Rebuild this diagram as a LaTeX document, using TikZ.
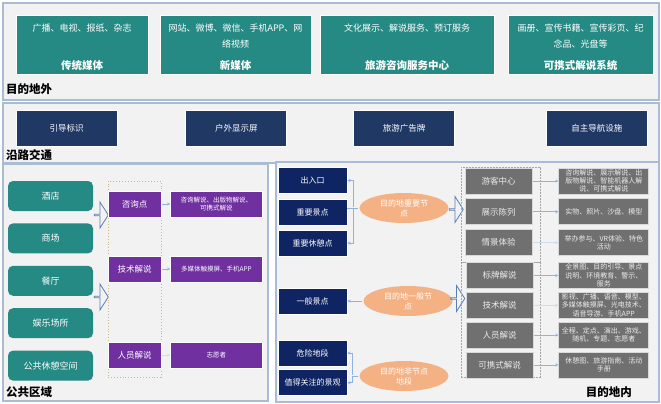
\documentclass[tikz,border=0pt]{standalone}
\usepackage{fontspec}
\setmainfont{Noto Sans CJK SC}
\usetikzlibrary{arrows.meta,positioning,shapes.geometric,shapes.arrows}
\definecolor{panelbg}{HTML}{F2F2F2}
\definecolor{panelline}{HTML}{A9BCD4}
\definecolor{tealbox}{HTML}{268A84}
\definecolor{navymid}{HTML}{1F3864}
\definecolor{navydeep}{HTML}{0F2462}
\definecolor{purplebox}{HTML}{7030A0}
\definecolor{peach}{HTML}{F4B183}
\definecolor{greybox}{HTML}{707070}
\definecolor{greyline}{HTML}{D9D9D9}
\definecolor{linkblue}{HTML}{8DB4E2}
\definecolor{hollow}{HTML}{5A80B3}
\definecolor{tanline}{HTML}{C9B78A}

\begin{document}
\begin{tikzpicture}[x=1pt, y=-1pt, >={Stealth[length=3.2pt,width=3.2pt]},
  font=\fontsize{8.5}{10}\selectfont,
  panel/.style={draw=panelline, line width=1.2pt, fill=panelbg},
  zone/.style={font=\fontsize{11.5}{12}\selectfont\bfseries, inner sep=0pt},
  media/.style={fill=tealbox, draw=white, line width=0.8pt, minimum height=59pt, inner sep=0pt},
  mdesc/.style={text=white, align=center, font=\fontsize{9}{16}\selectfont, inner sep=0pt},
  mtitle/.style={text=white, font=\fontsize{10.5}{12}\selectfont\bfseries, inner sep=0pt},
  sign/.style={fill=navymid, draw=white, line width=0.8pt, text=white, minimum width=101pt, minimum height=36pt},
  venue/.style={fill=tealbox, text=white, rounded corners=5pt, minimum width=85pt, minimum height=30pt, font=\fontsize{9}{10}\selectfont},
  ptag/.style={fill=purplebox, draw=white, text=white, minimum width=53pt, minimum height=26pt, inner sep=0pt},
  pnote/.style={fill=purplebox, draw=white, text=white, minimum width=92pt, minimum height=26pt, inner sep=0pt, align=center, font=\fontsize{6.5}{8}\selectfont},
  spot/.style={fill=navydeep, draw=white, line width=0.8pt, text=white, minimum width=69pt, minimum height=26pt, inner sep=0pt, font=\fontsize{8}{9}\selectfont},
  hub/.style={ellipse, fill=peach, text=white, minimum width=89pt, minimum height=30pt, inner sep=0pt, align=center, font=\fontsize{8}{10}\selectfont},
  gtag/.style={fill=greybox, draw=greyline, line width=0.8pt, text=white!92!black, minimum width=67pt, minimum height=26pt, inner sep=0pt},
  gnote/.style={fill=greybox, draw=greyline, line width=0.8pt, text=white!92!black, minimum width=90pt, minimum height=26pt, inner sep=0pt, align=center, font=\fontsize{7}{8.2}\selectfont},
  hollowarrow/.style={single arrow, draw=hollow, line width=0.8pt, minimum height=14pt, minimum width=26pt, single arrow head extend=6pt, single arrow tip angle=115, inner sep=0pt},
  link/.style={->, draw=linkblue, line width=0.7pt, shorten <=1pt},
  faintlink/.style={link, draw=linkblue!45},
  tanframe/.style={draw=tanline, dotted, line width=0.9pt, minimum width=53pt, minimum height=196pt},
  greyframe/.style={draw=gray!70, dash pattern=on 2pt off 1pt, line width=0.6pt, minimum width=79pt}]
  \useasboundingbox (0,0) rectangle (661,404);

  % 目的地外
  \draw[panel] (3,3) rectangle (659,100);
  \node[media, minimum width=132pt] (ctmt) at (82,44.5) {};
  \node[media, minimum width=151pt] (xmt) at (235.5,44.5) {};
  \node[media, minimum width=174pt] (zxzx) at (407,44.5) {};
  \node[media, minimum width=145pt] (jsxt) at (580.5,44.5) {};
  \node[mdesc, below=9pt of ctmt.north] (ctmtd) {广播、电视、报纸、杂志};
  \node[mdesc, below=9pt of xmt.north] (xmtd) {网站、微博、微信、手机APP、网\\络视频};
  \node[mdesc, below=9pt of zxzx.north] (zxzxd) {文化展示、解说服务、预订服务};
  \node[mdesc, below=9pt of jsxt.north] (jsxtd) {画册、宣传书籍、宣传彩页、纪\\念品、光盘等};
  \node[mtitle, above=4pt of ctmt.south] (ctmtt) {传统媒体};
  \node[mtitle, above=4pt of xmt.south] (xmtt) {新媒体};
  \node[mtitle, above=4pt of zxzx.south] (zxzxt) {旅游咨询服务中心};
  \node[mtitle, above=4pt of jsxt.south] (jsxtt) {可携式解说系统};
  \node[zone, anchor=west] (mdw) at (6,89) {目的地外};

  % 沿路交通
  \draw[panel] (3,103) rectangle (659,163);
  \node[sign] (ydbs) at (66.5,128) {引导标识};
  \node[sign, right=68pt of ydbs] (hwxs) {户外显示屏};
  \node[sign, right=66pt of hwxs] (lygg) {旅游广告牌};
  \node[sign, right=91pt of lygg] (zzdh) {自主导航设施};
  \node[zone, anchor=west] (ylt) at (6,155) {沿路交通};

  % 公共区域
  \draw[panel] (3,164) rectangle (268,401);
  \node[venue] (jd) at (50.5,196) {酒店};
  \node[venue, below=12pt of jd] (sc) {商场};
  \node[venue, below=12pt of sc] (ct) {餐厅};
  \node[venue, below=12pt of ct] (ylcs) {娱乐场所};
  \node[venue, below=12pt of ylcs] (ggxq) {公共休憩空间};
  \node[hollowarrow] (pa1) at (101,215) {};
  \node[hollowarrow] (pa2) at (101,297) {};
  \node[tanframe] (jsk) at (134.5,279) {};
  \node[ptag] (zxd) at (134.5,204) {咨询点};
  \node[ptag] (jsjs) at (134.5,269) {技术解说};
  \node[ptag] (ryjs) at (134.5,355) {人员解说};
  \node[pnote, right=9pt of zxd] (zxdn) {咨询解说、出版物解说、\\可携式解说};
  \node[pnote, right=9pt of jsjs] (jsjsn) {多媒体触摸屏、手机APP};
  \node[pnote, right=9pt of ryjs] (ryjsn) {志愿者};
  \draw[link] (zxd) -- (zxdn);
  \draw[link] (jsjs) -- (jsjsn);
  \draw[faintlink] (ryjs) -- (ryjsn);
  \node[zone, anchor=west] (ggqy) at (6,392) {公共区域};

  % 目的地内
  \draw[panel] (276,162) rectangle (659,402);
  \node[spot] (cry) at (312.5,180.5) {出入口};
  \node[spot, below=5pt of cry] (zyjd) {重要景点};
  \node[spot, below=4pt of zyjd] (zyxx) {重要休憩点};
  \node[spot] (ybjd) at (312.5,301) {一般景点};
  \node[spot] (wxdd) at (312.5,353) {危险地段};
  \node[spot, below=3pt of wxdd] (zdgz) {值得关注的景观};
  \node[hub] (imp) at (404,208) {目的地重要节\\点};
  \node[hub] (gen) at (408,301) {目的地一般节\\点};
  \node[hub] (non) at (404,376) {目的地非节点\\地段};
  \coordinate (impj) at ([xshift=-6pt]imp.west);
  \coordinate (nonj) at ([xshift=-7pt]non.west);
  \draw[link, -] (imp.west) -- (imp.west -| zyjd.east);
  \draw[link] (impj) |- (cry.east);
  \draw[link] (impj) |- (zyxx.east);
  \draw[link] (gen.west) -- (ybjd.east);
  \draw[link, -] (non.west) -- (nonj);
  \draw[link] (nonj) |- (wxdd.east);
  \draw[link] (nonj) |- (zdgz.east);
  \node[hollowarrow] (pa3) at (456,209.5) {};
  \node[hollowarrow] (pa4) at (457.5,298.5) {};

  \node[greyframe, minimum height=95pt] (tyq) at (500.5,214.5) {};
  \node[greyframe, minimum height=115pt] (jsq) at (500.5,319.5) {};
  \node[gtag] (ykzx) at (498.5,181) {游客中心};
  \node[gtag, below=4pt of ykzx] (zscl) {展示陈列};
  \node[gtag, below=4pt of zscl] (qjty) {情景体验};
  \node[gtag] (bpjs) at (499.5,275.5) {标牌解说};
  \node[gtag, below=3pt of bpjs] (jsjs2) {技术解说};
  \node[gtag, below=3pt of jsjs2] (ryjs2) {人员解说};
  \node[gtag, below=3pt of ryjs2] (kxjs) {可携式解说};
  \node[gnote, right=26pt of ykzx] (ykzxn) {咨询解说、展示解说、出\\版物解说、智能机器人解\\说、可携式解说};
  \node[gnote, right=26pt of zscl] (zscln) {实物、照片、沙盘、模型};
  \node[gnote, right=26pt of qjty] (qjtyn) {举办参与、VR体验、特色\\活动};
  \node[gnote, right=25pt of bpjs] (bpjsn) {全景图、目的引导、景点\\说明、环境教育、警示、\\服务};
  \node[gnote, right=25pt of jsjs2] (jsjs2n) {影视、广播、语音、模型、\\多媒体触摸屏、光电技术、\\语音导游、手机APP};
  \node[gnote, right=25pt of ryjs2] (ryjs2n) {全程、定点、演出、游戏、\\随机、专题、志愿者};
  \node[gnote, right=25pt of kxjs] (kxjsn) {休憩图、旅游指南、活动\\手册};
  \draw[link] (ykzx) -- (ykzxn);
  \draw[link] (zscl) -- (zscln);
  \draw[faintlink] (qjty) -- (qjtyn);
  \draw[link] (bpjs) -- (bpjsn);
  \draw[faintlink] (jsjs2) -- (jsjs2n);
  \draw[link] (ryjs2) -- (ryjs2n);
  \draw[link] (kxjs) -- (kxjsn);
  \node[zone, anchor=east] (mdn) at (632,392) {目的地内};
\end{tikzpicture}
\end{document}
